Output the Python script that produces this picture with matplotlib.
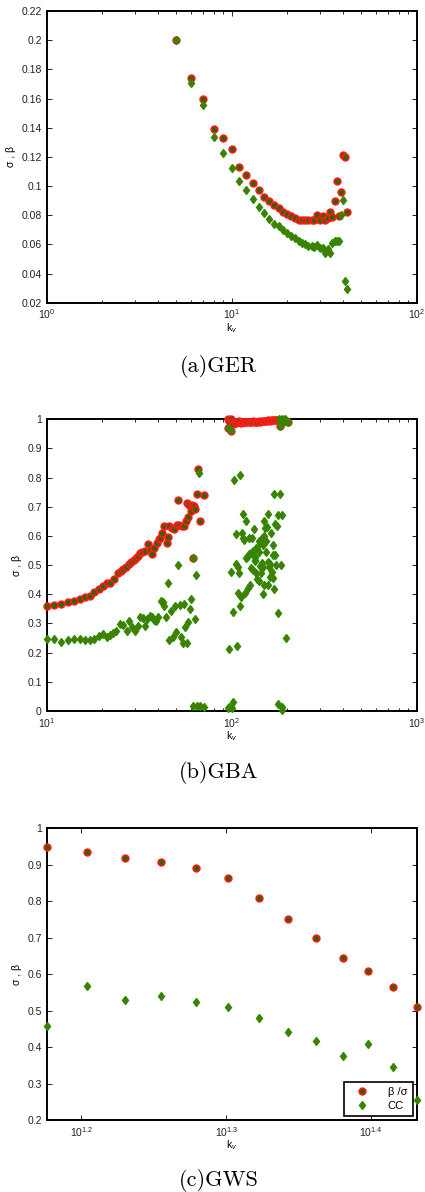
import matplotlib
matplotlib.use("Agg")
import matplotlib.pyplot as plt
from matplotlib.ticker import FixedLocator, NullLocator, FuncFormatter

plt.rcParams['font.family'] = ['Liberation Sans', 'DejaVu Sans']
plt.rcParams['mathtext.fontset'] = 'custom'
plt.rcParams['mathtext.rm'] = 'Liberation Sans'
plt.rcParams['mathtext.it'] = 'Liberation Sans:italic'
plt.rcParams['mathtext.sf'] = 'Liberation Sans'

# (a) GER
k_ger = list(range(5, 43))
beta_ger = [0.2003, 0.1738, 0.1594, 0.1393, 0.1329, 0.1254, 0.1133, 0.1076, 0.1021, 0.0975,
            0.0925, 0.0895, 0.0870, 0.0849, 0.0824, 0.0810, 0.0792, 0.0778, 0.0767, 0.0767,
            0.0767, 0.0767, 0.0767, 0.0767, 0.0800, 0.0767, 0.0794, 0.0767, 0.0778, 0.0822,
            0.0785, 0.0900, 0.1032, 0.0796, 0.0956, 0.1213, 0.1201, 0.0819]
cc_ger = [0.2003, 0.1704, 0.1553, 0.1336, 0.1229, 0.1123, 0.1034, 0.0970, 0.0913, 0.0856,
          0.0817, 0.0776, 0.0739, 0.0726, 0.0696, 0.0678, 0.0655, 0.0641, 0.0623, 0.0611,
          0.0600, 0.0591, 0.0589, 0.0584, 0.0593, 0.0573, 0.0573, 0.0543, 0.0566, 0.0541,
          0.0607, 0.0620, 0.0623, 0.0623, 0.0801, 0.0904, 0.0351, 0.0294]

# (b) GBA
k_gba_beta = [10, 11, 12, 13.1, 14.1, 15.1, 16.1, 17.1, 18.1, 19.1, 20.2, 21.2, 22, 23.1, 24.2,
              25.1, 26, 26.8, 27.7, 28.7, 29.5, 30.4, 31.2, 32, 32.7, 33.9, 35.2, 36.2, 37.2, 38.2,
              39.3, 40.3, 41.1, 42, 43.2, 44.5, 45.3, 46, 47.8, 49, 50.4, 52.1, 53.9, 55.5, 56.6,
              58.3, 51, 57.1, 58.8, 60, 61, 62.6, 63.6, 61.5, 67.4, 65.2, 71.2, 66.1,
              96, 98.8, 182.6, 202.3,
              95, 97, 99, 100, 102, 104, 106, 108, 110, 112, 114, 116, 118, 120, 122, 125, 127,
              130, 132, 135, 137, 140, 143, 146, 149, 152, 155, 158, 161, 164, 167, 170, 173,
              176, 179, 182, 185, 188, 191, 195]
beta_gba = [0.361, 0.363, 0.366, 0.373, 0.378, 0.384, 0.392, 0.394, 0.408, 0.417, 0.429, 0.438,
            0.44, 0.454, 0.472, 0.48, 0.487, 0.495, 0.503, 0.511, 0.518, 0.526, 0.533, 0.541,
            0.546, 0.55, 0.573, 0.552, 0.538, 0.56, 0.577, 0.589, 0.594, 0.611, 0.635, 0.577,
            0.598, 0.634, 0.629, 0.625, 0.638, 0.638, 0.634, 0.634, 0.653, 0.666, 0.723, 0.714,
            0.706, 0.687, 0.706, 0.703, 0.693, 0.526, 0.653, 0.745, 0.742, 0.829,
            0.969, 0.960, 0.978, 0.990,
            1.0, 0.995, 1.0, 0.99, 0.985, 0.992, 0.988, 0.99, 0.993, 0.989, 0.991, 0.99, 0.992,
            0.99, 0.99, 0.992, 0.991, 0.993, 0.99, 0.992, 0.99, 0.993, 0.992, 0.994, 0.993,
            0.995, 0.994, 0.996, 0.995, 0.997, 0.996, 0.997, 0.998, 0.997, 0.998, 0.999, 0.998,
            1.0, 0.999, 0.998]
k_gba_cc = [10, 11, 12, 13.1, 14.1, 15.1, 16.1, 17.1, 18.1, 19.1, 20.1, 21.1, 22, 22.9, 23.8,
            24.9, 26, 27.1, 28, 28.9, 30, 31, 32, 33, 34.1, 35, 36.2, 37.1, 38, 39, 40.1, 41.3,
            42.3, 43, 44.2, 45, 46.1, 47.2, 48.2, 49.2, 50, 51, 52.3, 53.4, 54.3, 55.2, 56.1,
            57.4, 58.3, 59.2, 60, 61.5, 63, 64.4, 66.4, 62, 64.7, 67, 71,
            103.3, 111.4, 169.4, 182.6, 115.6, 119.5, 157.9, 178.8, 187.9, 150.2, 171.5, 176.6,
            155.9, 151.4, 131.5, 162.6, 105.6, 113.7, 115.6, 123.5, 128.8, 141.2, 145.9, 149.6,
            153.4, 142.3, 148.4, 166.7, 135.4, 131, 126.7, 123, 119.5, 140, 154, 166.7, 171.5,
            133.1, 105.6, 108.6, 145.3, 161.2, 142.3, 173.8, 184.1, 127.2, 133.7, 148.4, 116.6,
            137.7, 120.5, 124.6, 134.3, 156.6, 159.8, 99.2, 109.5, 129.9, 134.8, 144.1, 164.6,
            161.2, 168.1, 137.7, 140.6, 156.6, 149.6, 170.1, 125.7, 122, 118.1, 107.7, 111.9,
            147.1, 110.5, 102.1, 178.8, 197.4, 97.1, 106.4, 101.2, 97.1, 100, 95.9, 177.4, 187.9,
            186.3, 181.1, 187.9, 194.1, 202.3, 182.6, 190.1, 95.9, 98.8]
cc_gba = [0.246, 0.246, 0.237, 0.243, 0.248, 0.246, 0.243, 0.243, 0.248, 0.258, 0.264, 0.253,
          0.262, 0.269, 0.274, 0.298, 0.296, 0.275, 0.31, 0.289, 0.274, 0.293, 0.323, 0.318,
          0.293, 0.314, 0.327, 0.321, 0.312, 0.31, 0.323, 0.377, 0.375, 0.36, 0.321, 0.44,
          0.243, 0.344, 0.253, 0.36, 0.272, 0.5, 0.363, 0.253, 0.234, 0.367, 0.289, 0.232,
          0.304, 0.349, 0.384, 0.526, 0.315, 0.465, 0.817, 0.017, 0.017, 0.017, 0.015,
          0.792, 0.809, 0.745, 0.745, 0.675, 0.651, 0.675, 0.671, 0.671, 0.651, 0.641, 0.634,
          0.632, 0.626, 0.623, 0.611, 0.606, 0.609, 0.594, 0.594, 0.594, 0.584, 0.594, 0.6,
          0.584, 0.575, 0.569, 0.57, 0.558, 0.549, 0.541, 0.531, 0.523, 0.545, 0.545, 0.534,
          0.534, 0.529, 0.504, 0.495, 0.506, 0.504, 0.497, 0.499, 0.5, 0.49, 0.515, 0.493,
          0.586, 0.554, 0.527, 0.538, 0.518, 0.511, 0.495, 0.475, 0.472, 0.483, 0.474, 0.472,
          0.478, 0.458, 0.455, 0.451, 0.447, 0.432, 0.432, 0.418, 0.431, 0.421, 0.406, 0.403,
          0.392, 0.4, 0.36, 0.341, 0.337, 0.249, 0.213, 0.223, 0.03, 0.015, 0.009, 0.009,
          0.024, 0.013, 0.003, 1.0, 0.998, 1.0, 0.99, 0.978, 0.986, 0.971, 0.963]

# (c) GWS
k_gws = list(range(15, 28))
beta_gws = [0.949, 0.936, 0.919, 0.907, 0.891, 0.865, 0.810, 0.751, 0.699, 0.645, 0.608, 0.564, 0.509]
cc_gws = [0.457, 0.568, 0.530, 0.541, 0.524, 0.511, 0.481, 0.441, 0.416, 0.375, 0.409, 0.346, 0.256]

RED_EDGE = '#ff1a1a'
RED_FACE = '#2f6400'
GRN_EDGE = '#249000'
GRN_FACE = '#5f6e00'


def matlab_fmt(v, pos):
    return '%g' % round(v, 4)


def style(ax):
    for s in ax.spines.values():
        s.set_linewidth(1.4)
    ax.tick_params(which='both', direction='in', top=True, right=True, labelsize=7.5,
                   colors='#222222', width=0.7)
    ax.tick_params(which='major', length=3.5)
    ax.tick_params(which='minor', length=2)
    ax.set_xlabel('k$_v$', fontsize=7.5, labelpad=0)
    ax.set_ylabel('σ , β', fontsize=7.5, labelpad=4)
    ax.yaxis.set_major_formatter(FuncFormatter(matlab_fmt))


def draw(ax, kb, vb, kc, vc):
    ax.plot(kb, vb, 'o', ms=4.8, mec=RED_EDGE, mfc=RED_FACE, mew=1.2, clip_on=False,
            label='β /σ', zorder=3)
    ax.plot(kc, vc, 'd', ms=4.4, mec=GRN_EDGE, mfc=GRN_FACE, mew=1.0, clip_on=False,
            label='CC', zorder=4)


W, H = 425, 1192
fig = plt.figure(figsize=(W / 100, H / 100), dpi=100)

def axes_at(left, top, right, bottom):
    return fig.add_axes([left / W, 1 - bottom / H, (right - left) / W, (bottom - top) / H])

ax_a = axes_at(46.7, 11, 416.7, 302.7)
ax_b = axes_at(46.7, 419.3, 416.7, 711)
ax_c = axes_at(46.7, 828.3, 416.7, 1120)

# (a)
draw(ax_a, k_ger, beta_ger, k_ger, cc_ger)
ax_a.set_xscale('log')
ax_a.set_xlim(1, 100)
ax_a.set_ylim(0.02, 0.22)
ax_a.set_yticks([0.02, 0.04, 0.06, 0.08, 0.1, 0.12, 0.14, 0.16, 0.18, 0.2, 0.22])
style(ax_a)

# (b)
draw(ax_b, k_gba_beta, beta_gba, k_gba_cc, cc_gba)
ax_b.set_xscale('log')
ax_b.set_xlim(10, 1000)
ax_b.set_ylim(0, 1)
ax_b.set_yticks([0, 0.1, 0.2, 0.3, 0.4, 0.5, 0.6, 0.7, 0.8, 0.9, 1])
style(ax_b)

# (c)
draw(ax_c, k_gws, beta_gws, k_gws, cc_gws)
ax_c.set_xscale('log')
ax_c.set_xlim(15, 27)
ax_c.set_ylim(0.2, 1)
ax_c.set_yticks([0.2, 0.3, 0.4, 0.5, 0.6, 0.7, 0.8, 0.9, 1])
ax_c.xaxis.set_major_locator(FixedLocator([10 ** 1.2, 10 ** 1.3, 10 ** 1.4]))
ax_c.xaxis.set_minor_locator(NullLocator())
ax_c.set_xticklabels(['$10^{1.2}$', '$10^{1.3}$', '$10^{1.4}$'])
style(ax_c)
leg = ax_c.legend(loc='lower right', fontsize=8, fancybox=False, edgecolor='black',
                  framealpha=1, borderaxespad=0.35, handletextpad=1.2, borderpad=0.5,
                  labelspacing=0.3, handlelength=2.2)
leg.get_frame().set_linewidth(1.2)

cap = dict(ha='center', va='center', fontsize=16, family=['cmr10', 'DejaVu Serif'])
fig.text(219 / W, 1 - 366 / H, '(a)GER', **cap)
fig.text(219 / W, 1 - 773 / H, '(b)GBA', **cap)
fig.text(219 / W, 1 - 1180 / H, '(c)GWS', **cap)

fig.savefig('out.png', dpi=100)
